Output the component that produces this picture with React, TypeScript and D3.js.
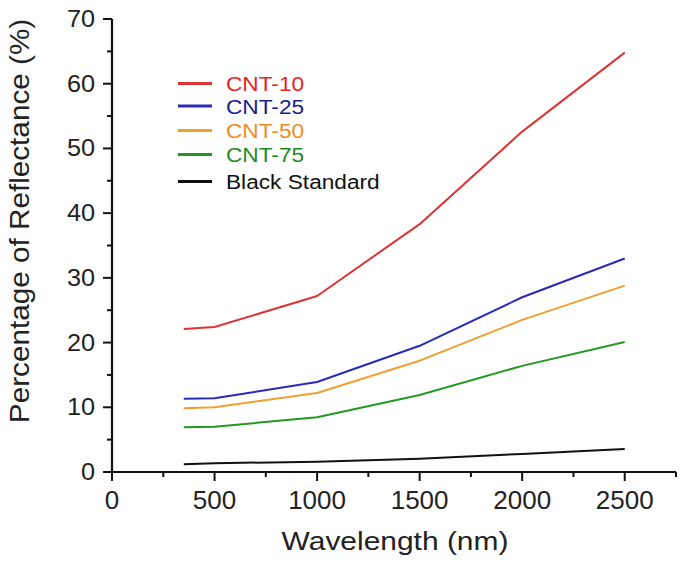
import React from "react";
import * as d3 from "d3";

const wavelengths = [350, 500, 1000, 1500, 2000, 2500];
const cnt10 = [22.1, 22.4, 27.2, 38.3, 52.6, 64.8];
const cnt25 = [11.3, 11.4, 13.9, 19.5, 27.0, 33.0];
const cnt50 = [9.85, 10.0, 12.2, 17.2, 23.5, 28.8];
const cnt75 = [6.9, 7.0, 8.45, 11.9, 16.4, 20.1];
const blackStd = [1.2, 1.35, 1.6, 2.05, 2.8, 3.55];

const seriesNames = ["CNT-10", "CNT-25", "CNT-50", "CNT-75", "Black Standard"];
const seriesValues = [cnt10, cnt25, cnt50, cnt75, blackStd];
const lineColors = ["#dd3333", "#2a2ab8", "#f0a030", "#229922", "#111111"];
const textColors = ["#e8231f", "#1c1c8e", "#f28c1e", "#1f8a1f", "#111111"];

const xMajor = [0, 500, 1000, 1500, 2000, 2500];
const yMajor = [0, 10, 20, 30, 40, 50, 60, 70];

export default function App() {
  const x = d3.scaleLinear().domain([0, 2750]).range([112, 676]);
  const y = d3.scaleLinear().domain([0, 70]).range([472, 19]);
  const line = d3
    .line<[number, number]>()
    .x((d) => x(d[0]))
    .y((d) => y(d[1]));
  const xMinor = d3.range(0, 2751, 250);
  const yMinor = d3.range(0, 71, 5);
  const legendY = [83.5, 106, 130.5, 154.5, 181.5];
  const font = "Arial, 'Liberation Sans', Helvetica, sans-serif";

  return (
    <svg
      width={685}
      height={569}
      style={{ position: "absolute", left: 0, top: 0, background: "#fff" }}
      fontFamily={font}
    >
      {seriesValues.map((vals, i) => (
        <path
          key={i}
          d={line(wavelengths.map((w, j) => [w, vals[j]]) as [number, number][]) || ""}
          fill="none"
          stroke={lineColors[i]}
          strokeWidth={2}
          strokeLinejoin="round"
        />
      ))}
      <line x1={x(0)} x2={x(2750)} y1={y(0)} y2={y(0)} stroke="#111" strokeWidth={2.2} />
      <line x1={x(0)} x2={x(0)} y1={y(0)} y2={y(70)} stroke="#111" strokeWidth={2.2} />
      {xMinor.map((v) => (
        <line
          key={"xt" + v}
          x1={x(v)}
          x2={x(v)}
          y1={y(0)}
          y2={y(0) + (v % 500 === 0 ? 9 : 5)}
          stroke="#111"
          strokeWidth={2}
        />
      ))}
      {yMinor.map((v) => (
        <line
          key={"yt" + v}
          x1={x(0)}
          x2={x(0) - (v % 10 === 0 ? 9 : 5)}
          y1={y(v)}
          y2={y(v)}
          stroke="#111"
          strokeWidth={2}
        />
      ))}
      {xMajor.map((v) => (
        <text key={"xl" + v} x={x(v)} y={509} textAnchor="middle" fontSize={26} fill="#222">
          {v}
        </text>
      ))}
      {yMajor.map((v) => (
        <text
          key={"yl" + v}
          transform={`translate(95, ${y(v) + 8}) scale(1.1, 1)`}
          textAnchor="end"
          fontSize={23}
          fill="#222"
        >
          {v}
        </text>
      ))}
      <text
        transform={`translate(395, 550) scale(1.13, 1)`}
        textAnchor="middle"
        fontSize={26.5}
        fill="#222"
      >
        Wavelength (nm)
      </text>
      <text
        transform={`translate(29, 221) rotate(-90) scale(1.1, 1)`}
        textAnchor="middle"
        fontSize={27}
        fill="#222"
      >
        Percentage of Reflectance (%)
      </text>
      {seriesNames.map((n, i) => (
        <g key={n}>
          <line x1={178} x2={212} y1={legendY[i]} y2={legendY[i]} stroke={lineColors[i]} strokeWidth={3} />
          <text
            transform={`translate(226, ${legendY[i] + 7.5}) scale(1.08, 1)`}
            fontSize={21}
            fill={textColors[i]}
          >
            {n}
          </text>
        </g>
      ))}
    </svg>
  );
}
